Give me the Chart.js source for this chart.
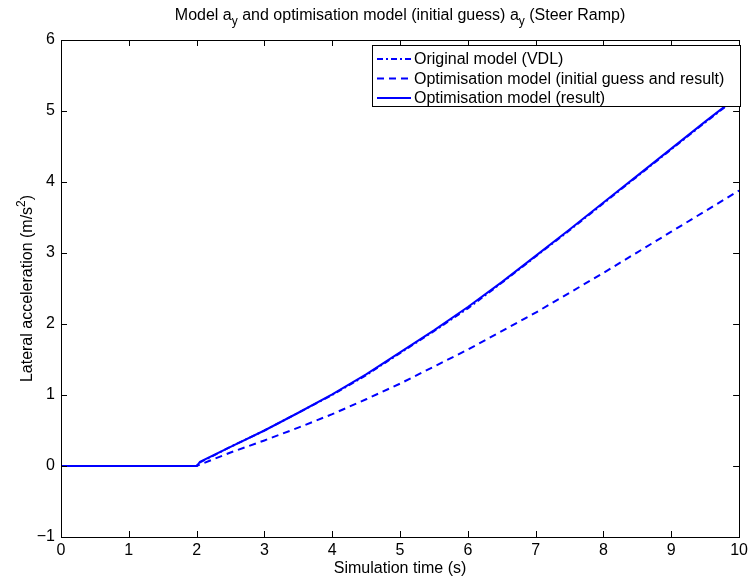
<!DOCTYPE html>
<html><head><meta charset="utf-8">
<script src="https://cdn.jsdelivr.net/npm/chart.js@4/dist/chart.umd.min.js"></script>
<style>html,body{margin:0;padding:0;background:#fff}</style>
</head><body>
<canvas id="c" width="752" height="578"></canvas>
<script>
// ---- data ----
const timeS        = [0, 0.5, 1, 1.5, 2, 2.05, 2.5, 3, 3.5, 4, 4.5, 5, 5.5, 6, 6.5, 7, 7.5, 8, 8.5, 9, 9.5, 10];
const originalVDL  = [0, 0, 0, 0, 0, 0.05, 0.27, 0.50, 0.75, 1.00, 1.28, 1.59, 1.90, 2.22, 2.58, 2.95, 3.32, 3.70, 4.08, 4.46, 4.84, 5.21];
const initialGuess = [0, 0, 0, 0, 0, 0.02, 0.19, 0.36, 0.54, 0.73, 0.94, 1.16, 1.40, 1.64, 1.90, 2.16, 2.44, 2.72, 3.01, 3.30, 3.59, 3.88];
const optimResult  = [0, 0, 0, 0, 0, 0.06, 0.27, 0.50, 0.75, 1.01, 1.29, 1.60, 1.91, 2.24, 2.59, 2.96, 3.33, 3.71, 4.09, 4.47, 4.85, 5.22];
const xTickValues  = [0, 1, 2, 3, 4, 5, 6, 7, 8, 9, 10];
const yTickValues  = [-1, 0, 1, 2, 3, 4, 5, 6];
const seriesLabels = ['Original model (VDL)', 'Optimisation model (initial guess and result)', 'Optimisation model (result)'];

const FONT = '"Liberation Sans", Arial, Helvetica, sans-serif';
const BLUE = '#0000ff';
const pts = arr => timeS.map((t, i) => ({x: t, y: arr[i]}));

const dashStyles = [[6, 3, 2, 3], [7, 5], []];

const decor = {
  id: 'decor',
  afterDatasetsDraw(chart) {
    const ctx = chart.ctx;
    const a = chart.chartArea;
    const xs = chart.scales.x, ys = chart.scales.y;
    ctx.save();
    // box
    ctx.strokeStyle = '#000';
    ctx.lineWidth = 1;
    ctx.setLineDash([]);
    ctx.strokeRect(Math.round(a.left) + 0.5, Math.round(a.top) + 0.5, Math.round(a.right - a.left), Math.round(a.bottom - a.top));
    // inward ticks
    const TL = 6;
    ctx.beginPath();
    xTickValues.forEach(v => {
      const px = Math.round(xs.getPixelForValue(v)) + 0.5;
      ctx.moveTo(px, a.bottom); ctx.lineTo(px, a.bottom - TL);
      ctx.moveTo(px, a.top); ctx.lineTo(px, a.top + TL);
    });
    yTickValues.forEach(v => {
      const py = Math.round(ys.getPixelForValue(v)) + 0.5;
      ctx.moveTo(a.left, py); ctx.lineTo(a.left + TL, py);
      ctx.moveTo(a.right, py); ctx.lineTo(a.right - TL, py);
    });
    ctx.stroke();

    // legend
    const lx = 372.5, ly = 45.5, lw = 368, lh = 61;
    ctx.fillStyle = '#fff';
    ctx.fillRect(lx, ly, lw, lh);
    ctx.strokeStyle = '#000';
    ctx.strokeRect(lx, ly, lw, lh);
    ctx.font = '16px ' + FONT;
    ctx.textBaseline = 'middle';
    ctx.textAlign = 'left';
    const rows = [59, 78.5, 98];
    seriesLabels.forEach((lab, i) => {
      ctx.strokeStyle = BLUE;
      ctx.lineWidth = 2;
      ctx.setLineDash(dashStyles[i]);
      ctx.beginPath();
      ctx.moveTo(377, rows[i]); ctx.lineTo(411, rows[i]);
      ctx.stroke();
      ctx.setLineDash([]);
      ctx.fillStyle = '#000';
      ctx.fillText(lab, 414, rows[i] + 1);
    });

    // title with subscripts
    const parts = [['Model a', 0], ['y', 1], [' and optimisation model (initial guess) a', 0], ['y', 1], [' (Steer Ramp)', 0]];
    const mainF = '16px ' + FONT, subF = '12px ' + FONT;
    let total = 0;
    parts.forEach(p => { ctx.font = p[1] ? subF : mainF; total += ctx.measureText(p[0]).width; });
    let x = (a.left + a.right) / 2 - total / 2;
    ctx.textBaseline = 'alphabetic';
    ctx.fillStyle = '#000';
    parts.forEach(p => {
      ctx.font = p[1] ? subF : mainF;
      ctx.fillText(p[0], x, p[1] ? 25 : 20);
      x += ctx.measureText(p[0]).width;
    });

    // x label
    ctx.font = '16px ' + FONT;
    ctx.textAlign = 'center';
    ctx.fillText('Simulation time (s)', (a.left + a.right) / 2, 573);

    // y label with superscript
    ctx.save();
    ctx.translate(32, (a.top + a.bottom) / 2);
    ctx.rotate(-Math.PI / 2);
    const yp = [['Lateral acceleration (m/s', 0], ['2', 1], [')', 0]];
    total = 0;
    yp.forEach(p => { ctx.font = p[1] ? subF : mainF; total += ctx.measureText(p[0]).width; });
    x = -total / 2;
    ctx.textAlign = 'left';
    yp.forEach(p => {
      ctx.font = p[1] ? subF : mainF;
      ctx.fillText(p[0], x, p[1] ? -7 : 0);
      x += ctx.measureText(p[0]).width;
    });
    ctx.restore();
    ctx.restore();
  }
};

new Chart(document.getElementById('c'), {
  type: 'line',
  data: {
    datasets: [
      {label: seriesLabels[0], data: pts(originalVDL), borderColor: BLUE, borderWidth: 2, borderDash: dashStyles[0], pointRadius: 0, fill: false, tension: 0},
      {label: seriesLabels[1], data: pts(initialGuess), borderColor: BLUE, borderWidth: 2, borderDash: dashStyles[1], pointRadius: 0, fill: false, tension: 0},
      {label: seriesLabels[2], data: pts(optimResult), borderColor: BLUE, borderWidth: 2, borderDash: dashStyles[2], pointRadius: 0, fill: false, tension: 0}
    ]
  },
  options: {
    responsive: false,
    animation: false,
    devicePixelRatio: 1,
    layout: {padding: {top: 40, right: 10, left: 0, bottom: 0}},
    plugins: {legend: {display: false}, title: {display: false}, tooltip: {enabled: false}},
    scales: {
      x: {
        type: 'linear', min: 0, max: 10,
        afterFit: s => { s.height = 41; },
        afterBuildTicks: s => { s.ticks = xTickValues.map(v => ({value: v})); },
        grid: {display: false, drawTicks: false},
        border: {display: false},
        ticks: {color: '#000', padding: 4, maxRotation: 0, font: {family: FONT, size: 16}}
      },
      y: {
        type: 'linear', min: -1, max: 6,
        afterFit: s => { s.width = 61; },
        afterBuildTicks: s => { s.ticks = yTickValues.map(v => ({value: v})); },
        grid: {display: false, drawTicks: false},
        border: {display: false},
        ticks: {color: '#000', padding: 6, font: {family: FONT, size: 16},
          callback: v => String(v).replace('-', '\u2212')}
      }
    }
  },
  plugins: [decor]
});
</script>
</body></html>
